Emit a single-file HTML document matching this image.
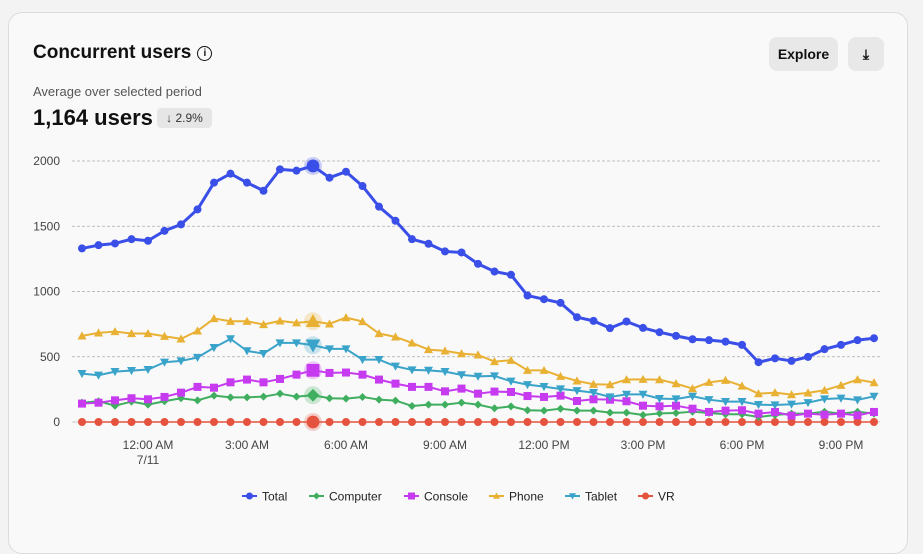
<!DOCTYPE html>
<html><head><meta charset="utf-8">
<style>
html,body{margin:0;padding:0;width:923px;height:523px;overflow:hidden;background:#f3f3f3;font-family:"Liberation Sans",sans-serif;}
.card{position:absolute;left:8px;top:12px;width:898px;height:540px;background:#f9f9f9;border:1px solid #dcdcdc;border-radius:14px;}
.title{position:absolute;left:33px;top:42px;font-size:19px;font-weight:bold;color:#111;}
.info{display:inline-block;width:13px;height:13px;border:1.5px solid #111;border-radius:50%;font-size:10px;text-align:center;line-height:13px;margin-left:6px;vertical-align:2px;font-weight:bold;}
.btn{position:absolute;top:37px;height:34px;background:#e8e8e8;border-radius:8px;font-size:14px;font-weight:bold;color:#111;text-align:center;line-height:34px;}
.sub{position:absolute;left:33px;top:84px;font-size:13px;color:#555;}
.big{position:absolute;left:33px;top:105px;font-size:22px;font-weight:bold;color:#111;}
.badge{position:absolute;left:157px;top:108px;width:55px;height:20px;background:#e6e6e6;border-radius:4px;font-size:12px;color:#333;text-align:center;line-height:20px;}
svg{position:absolute;left:0;top:0;}
</style></head><body>
<div class="card"></div>
<div class="title">Concurrent users<span class="info">i</span></div>
<div class="btn" style="left:769px;width:69px">Explore</div>
<div class="btn" style="left:848px;width:36px">⤓</div>
<div class="sub">Average over selected period</div>
<div class="big">1,164 users</div>
<div class="badge">↓ 2.9%</div>
<svg id="chart" width="923" height="523"></svg>
<script>
const yTicks=[0,500,1000,1500,2000];
const xTickLabels=["12:00 AM","3:00 AM","6:00 AM","9:00 AM","12:00 PM","3:00 PM","6:00 PM","9:00 PM"];
const xTickIndex=[4,10,16,22,28,34,40,46];
const total=[1330,1355,1368,1401,1389,1465,1514,1629,1834,1903,1834,1772,1936,1926,1962,1872,1918,1808,1650,1542,1401,1366,1307,1299,1212,1153,1128,969,941,913,803,775,719,770,721,688,660,634,627,616,591,458,488,468,499,558,591,627,642];
const computer=[148,159,125,156,133,159,182,166,202,189,189,194,217,194,205,182,179,192,171,164,123,133,133,148,133,105,120,90,87,102,87,87,72,72,54,66,69,79,69,59,59,38,54,64,64,79,64,79,64];
const consoleS=[141,148,166,182,174,192,225,269,263,304,325,304,330,363,396,376,379,363,325,294,269,269,235,256,217,233,230,199,192,202,161,174,171,159,125,120,125,102,77,87,90,64,77,49,64,56,64,51,77];
const phone=[660,683,693,678,678,657,637,698,793,772,772,747,775,760,772,752,800,770,678,652,606,555,545,524,514,463,473,396,396,350,315,289,286,325,327,325,294,256,304,320,276,217,225,210,223,243,281,325,302];
const tablet=[371,358,386,394,402,458,468,494,570,637,545,524,606,606,588,560,560,478,478,427,399,396,386,361,350,353,312,286,271,253,240,225,192,212,212,179,176,197,171,156,156,133,130,136,148,176,182,169,197];
const vr=new Array(49).fill(0);
const highlightIndex=14;
const NS="http://www.w3.org/2000/svg";
const svg=document.getElementById('chart');
const x0=82,dx=16.5,yBase=422,yTop=161;
const xs=i=>x0+dx*i;
const ys=v=>yBase-(v/2000)*(yBase-yTop);
function mk(t,a){const e=document.createElementNS(NS,t);for(const k in a)e.setAttribute(k,a[k]);svg.appendChild(e);return e;}
yTicks.forEach(v=>{
  const l=mk('line',{x1:72,x2:880,y1:ys(v),y2:ys(v),stroke:v===0?'#bbb':'#aaa','stroke-dasharray':v===0?'':'3,2','stroke-width':0.8});
  
  
  const t=mk('text',{x:60,y:ys(v)+4,'text-anchor':'end','font-size':12,fill:'#444','font-family':'Liberation Sans, sans-serif'});
  t.textContent=v;
  
  
});
xTickLabels.forEach((s,k)=>{
  const t=mk('text',{x:xs(xTickIndex[k]),y:449,'text-anchor':'middle','font-size':12,fill:'#444','font-family':'Liberation Sans, sans-serif'});
  t.textContent=s;
  
  
});
const dt=mk('text',{x:xs(4),y:464,'text-anchor':'middle','font-size':12,fill:'#444','font-family':'Liberation Sans, sans-serif'});
dt.textContent='7/11';


function marker(shape,x,y,r,c){
  let e;
  if(shape==='circle')e=mk('circle',{cx:x,cy:y,r:r,fill:c});
  else if(shape==='diamond')e=mk('polygon',{points:`${x},${y-r} ${x+r},${y} ${x},${y+r} ${x-r},${y}`,fill:c});
  else if(shape==='square')e=mk('rect',{x:x-r,y:y-r,width:2*r,height:2*r,fill:c});
  else if(shape==='up')e=mk('polygon',{points:`${x},${y-r} ${x+r},${y+r*0.8} ${x-r},${y+r*0.8}`,fill:c});
  else e=mk('polygon',{points:`${x},${y+r} ${x+r},${y-r*0.8} ${x-r},${y-r*0.8}`,fill:c});
  return e;
}
const series=[
 {name:'vr',data:vr,c:'#e5533f',s:'circle',w:1.5,r:4},
 {name:'computer',data:computer,c:'#3fae5f',s:'diamond',w:2,r:4},
 {name:'console',data:consoleS,c:'#c63bef',s:'square',w:2,r:4},
 {name:'tablet',data:tablet,c:'#3aa3c9',s:'down',w:2,r:4.5},
 {name:'phone',data:phone,c:'#e9b133',s:'up',w:2,r:4.5},
 {name:'total',data:total,c:'#3a4ee8',s:'circle',w:3,r:4}
];
series.forEach(se=>{
  const p=mk('polyline',{points:se.data.map((v,i)=>xs(i)+','+ys(v)).join(' '),fill:'none',stroke:se.c,'stroke-width':se.w,'stroke-linejoin':'round'});
  
  
  se.data.forEach((v,i)=>{
    if(i===highlightIndex){
      const h=mk('circle',{cx:xs(i),cy:ys(v),r:9,fill:se.c,'fill-opacity':0.25});
      
      
    }
    const m=marker(se.s,xs(i),ys(v),i===highlightIndex?se.r*1.6:se.r,se.c);
    
    
  });
});
const legend=[['Total','#3a4ee8','circle',242],['Computer','#3fae5f','diamond',309],['Console','#c63bef','square',404],['Phone','#e9b133','up',489],['Tablet','#3aa3c9','down',565],['VR','#e5533f','circle',638]];
legend.forEach(l=>{
  const ln=mk('line',{x1:l[3],x2:l[3]+15,y1:496,y2:496,stroke:l[1],'stroke-width':2});
  
  
  const m=marker(l[2],l[3]+7.5,496,3.5,l[1]);
  
  
  const t=mk('text',{x:l[3]+20,y:500.5,'font-size':12,fill:'#222','font-family':'Liberation Sans, sans-serif'});
  t.textContent=l[0];
  
  
});
</script>
</body></html>
